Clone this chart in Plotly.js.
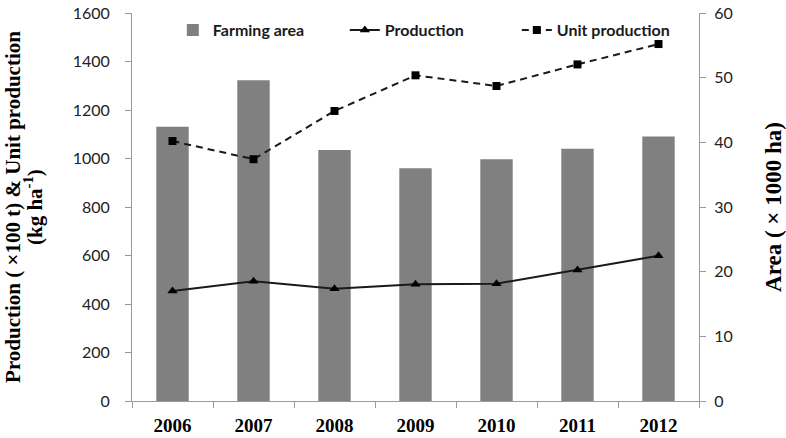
<!DOCTYPE html>
<html>
<head>
<meta charset="utf-8">
<script src="https://cdn.plot.ly/plotly-3.0.1.min.js"></script>
<style>html,body{margin:0;padding:0;background:#fff;}#chart{width:786px;height:438px;}</style>
</head>
<body>
<div id="chart"></div>
<script>
const years = ['2006','2007','2008','2009','2010','2011','2012'];
const farmingArea = [42.4, 49.6, 38.8, 36.0, 37.4, 39.0, 40.9];
const production = [454, 494, 463, 481, 484, 540, 599];
const unitProduction = [1072, 997, 1196, 1343, 1299, 1388, 1472];

const traces = [
  {x: years, y: farmingArea, type: 'bar', name: 'Farming area', yaxis: 'y',
   marker: {color: '#808080'}, width: 0.4},
  {x: years, y: production, type: 'scatter', mode: 'lines+markers', name: 'Production', yaxis: 'y2',
   line: {color: '#1a1a1a', width: 2}, marker: {symbol: 'triangle-up', size: 9, color: '#000'}},
  {x: years, y: unitProduction, type: 'scatter', mode: 'lines+markers', name: 'Unit production', yaxis: 'y2',
   line: {color: '#1a1a1a', width: 2, dash: '7px,5px'}, marker: {symbol: 'square', size: 8, color: '#000'}}
];

const tickFont = {family: 'Lato, "Open Sans", sans-serif', size: 16, color: '#222'};
const titleFont = {family: '"Liberation Serif", "Times New Roman", serif', size: 21, color: '#000', weight: 'bold'};

const layout = {
  width: 786, height: 438,
  margin: {l: 132, r: 87, t: 13, b: 37},
  paper_bgcolor: '#fff', plot_bgcolor: '#fff',
  showlegend: true,
  legend: {orientation: 'h', x: 0.072, y: 1.0, xanchor: 'left', yanchor: 'top',
           bgcolor: 'rgba(0,0,0,0)', font: {family: 'Lato, sans-serif', size: 16, color: '#1a1a1a', weight: 'bold'},
           entrywidth: 127, traceorder: 'normal'},
  xaxis: {type: 'category', showline: true, linecolor: '#9a9a9a', linewidth: 1,
          ticks: 'outside', tickson: 'boundaries', ticklen: 6, tickcolor: '#9a9a9a', ticklabelstandoff: 7,
          tickfont: {family: '"Liberation Serif", "Times New Roman", serif', size: 19, color: '#000', weight: 'bold'},
          showgrid: false, zeroline: false},
  yaxis: {side: 'right', range: [0, 60], dtick: 10, showline: true, linecolor: '#9a9a9a',
          ticks: 'outside', ticklen: 6, tickcolor: '#9a9a9a', tickfont: tickFont, ticklabelstandoff: 5,
          showgrid: false, zeroline: false,
          title: {text: 'Area ( × 1000 ha)', font: {family: '"Liberation Serif", "Times New Roman", serif', size: 23, color: '#000', weight: 'bold'}, standoff: 45}},
  yaxis2: {side: 'left', overlaying: 'y', range: [0, 1600], dtick: 200, showline: true, linecolor: '#9a9a9a',
           ticks: 'outside', ticklen: 6, tickcolor: '#9a9a9a', tickfont: tickFont, ticklabelstandoff: 12,
           showgrid: false, zeroline: false,
           title: {text: 'Production ( ×100 t) & Unit production', font: titleFont, standoff: 46}},
  annotations: [
    {text: '(kg ha<sup>-1</sup>)', xref: 'paper', yref: 'paper', x: -0.1746, y: 0.5,
     xanchor: 'center', yanchor: 'middle', textangle: -90, showarrow: false, font: titleFont}
  ]
};

Plotly.newPlot('chart', traces, layout, {displayModeBar: false, staticPlot: true});
</script>
</body>
</html>
